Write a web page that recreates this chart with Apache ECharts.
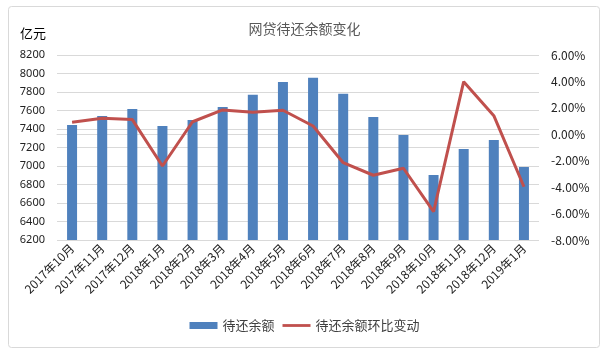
<!DOCTYPE html>
<html>
<head>
<meta charset="utf-8">
<script src="https://cdn.jsdelivr.net/npm/echarts@6/dist/echarts.min.js"></script>
<style>
html, body { margin: 0; padding: 0; background: #fff; }
#main { width: 609px; height: 355px; }
</style>
</head>
<body>
<div id="main"></div>
<script>
var months = ['2017年10月', '2017年11月', '2017年12月', '2018年1月', '2018年2月', '2018年3月',
    '2018年4月', '2018年5月', '2018年6月', '2018年7月', '2018年8月', '2018年9月',
    '2018年10月', '2018年11月', '2018年12月', '2019年1月'];
// 待还余额 (亿元)
var balance = [7443, 7540, 7616, 7432, 7497, 7638, 7771, 7908, 7955, 7782, 7530, 7335, 6903, 7184, 7281, 6989];
// 环比变动 (%)
var change = [0.91, 1.21, 1.11, -2.40, 0.95, 1.84, 1.66, 1.82, 0.63, -2.15, -3.10, -2.57, -5.86, 3.98, 1.41, -3.97];

var chart = echarts.init(document.getElementById('main'));
var option = {
    backgroundColor: '#fff',
    animation: false,
    title: {
        text: '网贷待还余额变化',
        left: 'center',
        top: 17,
        textStyle: { fontSize: 14, fontWeight: 'normal', color: '#595959', fontFamily: 'Noto Sans CJK SC' }
    },
    graphic: [{
        type: 'rect',
        shape: { x: 8.5, y: 6.5, width: 591, height: 341, r: 3 },
        style: { fill: 'none', stroke: '#d9d9d9', lineWidth: 1 },
        z: -1
    }, {
        type: 'text',
        left: 20,
        top: 27,
        style: { text: '亿元', fontSize: 13, fill: '#000', fontFamily: 'Noto Sans CJK SC' }
    }],
    legend: {
        bottom: 18,
        left: 'center',
        itemGap: 8,
        itemWidth: 28,
        itemHeight: 7,
        textStyle: { fontSize: 13, color: '#404040', fontFamily: 'Noto Sans CJK SC' },
        data: [
            { name: '待还余额', icon: 'rect' },
            { name: '待还余额环比变动', icon: 'path://M0 0H30V3H0Z' }
        ]
    },
    grid: { left: 57, right: 70, top: 55, bottom: 115 },
    xAxis: {
        type: 'category',
        data: months,
        axisLine: { show: true, lineStyle: { color: '#d9d9d9' } },
        axisTick: { show: false },
        axisLabel: { rotate: 45, interval: 0, fontSize: 12, color: '#222', margin: 6, fontFamily: 'Noto Sans CJK SC' }
    },
    yAxis: [{
        type: 'value',
        min: 6200,
        max: 8200,
        interval: 200,
        axisLine: { show: false },
        axisTick: { show: false },
        splitLine: { lineStyle: { color: '#d9d9d9' } },
        axisLabel: {
            fontSize: 11, color: '#222', margin: 12, fontFamily: 'Noto Sans',
            formatter: function (v) { return String(v); }
        }
    }, {
        type: 'value',
        min: -8,
        max: 6,
        interval: 2,
        position: 'right',
        axisLine: { show: false },
        axisTick: { show: false },
        splitLine: { show: false },
        axisLabel: {
            fontSize: 12, color: '#222', margin: 12, fontFamily: 'Noto Sans CJK SC',
            formatter: function (v) { return v.toFixed(2) + '%'; }
        }
    }],
    series: [{
        name: '待还余额',
        type: 'bar',
        data: balance,
        barWidth: 10,
        itemStyle: { color: '#4F81BD' }
    }, {
        name: '待还余额环比变动',
        type: 'line',
        yAxisIndex: 1,
        data: change,
        symbol: 'none',
        lineStyle: { color: '#C0504D', width: 3 },
        itemStyle: { color: '#C0504D' }
    }]
};
chart.setOption(option);
</script>
</body>
</html>
